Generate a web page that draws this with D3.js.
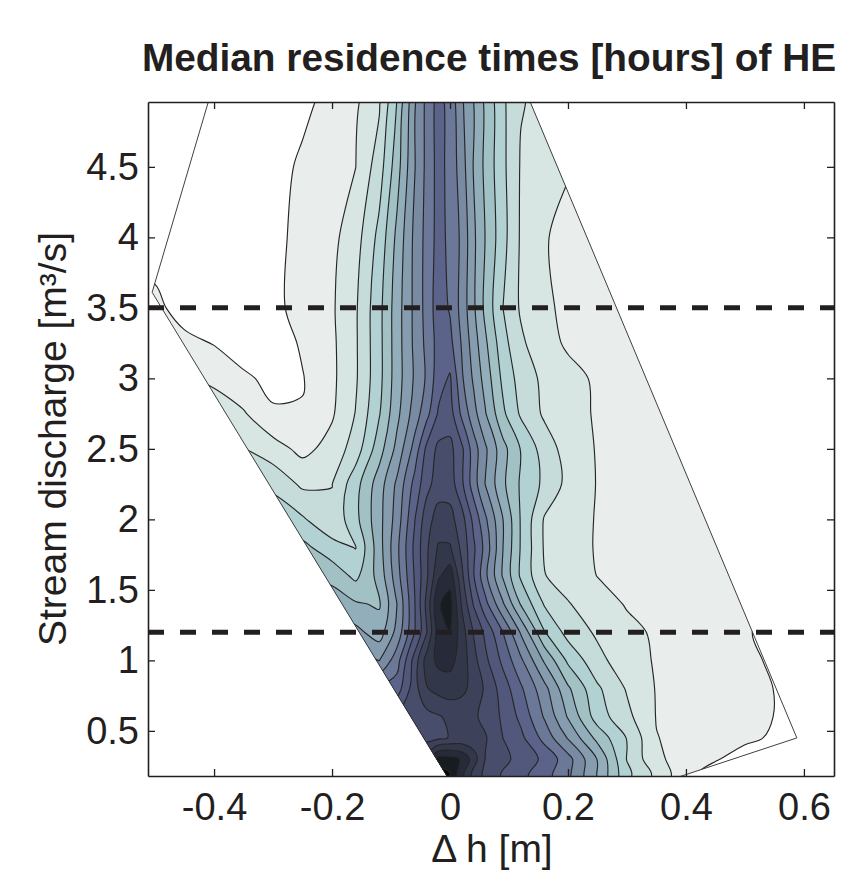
<!DOCTYPE html>
<html><head><meta charset="utf-8">
<script src="https://cdn.jsdelivr.net/npm/d3@7"></script>
<style>
body{margin:0;background:#fff;}
text{font-family:"Liberation Sans",Arial,Helvetica,sans-serif;}
</style></head><body>
<svg id="chart" width="846" height="882"></svg>
<script>
// ---------- data ----------
const xTicks = [-0.4, -0.2, 0, 0.2, 0.4, 0.6];
const xTickLabels = ["-0.4", "-0.2", "0", "0.2", "0.4", "0.6"];
const yTicks = [0.5, 1, 1.5, 2, 2.5, 3, 3.5, 4, 4.5];
const yTickLabels = ["0.5", "1", "1.5", "2", "2.5", "3", "3.5", "4", "4.5"];
const dischargeMarks = [3.5, 1.2];

// grid node positions (Δh [m], discharge [m³/s])
const gridX = [-0.55,-0.5,-0.45,-0.4,-0.35,-0.3,-0.25,-0.2,-0.16,-0.12,-0.09,-0.06,-0.04,-0.02,0,0.02,0.04,0.06,0.09,0.12,0.16,0.2,0.25,0.3,0.35,0.4,0.45,0.5,0.55,0.6,0.65,0.7];
const gridY = [0.1,0.2,0.3,0.45,0.6,0.8,1.0,1.2,1.4,1.6,1.8,2.0,2.25,2.5,2.75,3.0,3.25,3.5,4.0,4.5,5.0];

// median residence time level (rows follow gridY, columns follow gridX)
const medianTime = [
[15.5,15.5,15.5,15.5,15.5,15.5,15.5,15.5,15.5,15.5,15.5,15.7,16.8,17.3,16.7,15.2,13.5,12.6,11.8,11.2,10.3,9.1,6.8,4.1,2.6,1.2,0.6,0.5,0.5,0.5,0.5,0.5],
[15.5,15.5,15.5,15.5,15.5,15.5,15.5,15.5,15.5,15.5,15.5,15.8,16.9,17.6,17.03,15.3,13.7,12.73,11.9,11.31,10.42,9.24,6.95,4.25,2.74,1.27,0.6,0.5,0.5,0.5,0.5,0.5],
[14.5,14.4,14.3,14.2,14.1,14.05,14.05,14.05,14.05,14.05,14.05,14.05,14.6,16.35,16.4,15.9,14.5,12.95,12.28,11.64,10.78,9.38,6.95,3.95,2.19,1.57,1.08,0.6,0.5,0.5,0.5,0.5],
[13.05,12.9,12.8,12.75,12.7,12.65,12.6,12.6,12.55,12.55,12.5,12.5,12.55,12.81,13.05,13.26,13.33,13.09,11.99,11.26,9.66,7.92,5.68,3.95,2.03,1.73,1.46,1.19,0.88,0.55,0.5,0.5],
[12.8,12.7,12.6,12.55,12.5,12.45,12.4,12.4,12.35,12.3,12.3,12.35,12.64,12.9,13.2,13.45,13.16,12.73,11.82,10.75,8.9,6.91,4.5,3.27,1.96,1.8,1.64,1.42,0.98,0.6,0.5,0.5],
[11.05,10.9,10.8,10.7,10.6,10.5,10.4,10.35,10.3,10.25,10.49,12.58,13.93,14.34,14.52,14.22,13.72,12.83,11.53,10.17,8.33,6.17,4.17,2.9,1.94,1.76,1.59,1.42,0.98,0.6,0.5,0.5],
[9.5,9.3,9.1,8.9,8.8,8.7,8.6,8.5,8.4,7.98,9.56,12.43,14.4,15.27,15.31,14.58,13.34,12.24,10.74,9.2,6.86,4.8,3.3,2.42,1.91,1.72,1.53,1.3,0.8,0.5,0.5,0.5],
[8.3,8.1,7.9,7.7,7.6,7.5,7.45,7.4,7.3,6.5,8.32,10.95,12.88,15.5,16.05,14.46,12.94,11.76,9.99,7.89,5.06,3.63,2.84,2.23,1.88,1.69,1.45,1.1,0.7,0.5,0.5,0.5],
[7.6,7.4,7.2,7.05,6.9,6.8,6.7,6.65,6.12,5.88,7.99,10.93,13.23,15.9,16.4,13.87,11.91,10.32,8.11,5.92,3.91,3.07,2.39,1.93,1.74,1.58,1.5,1.3,0.95,0.6,0.5,0.5],
[6.8,6.6,6.4,6.3,6.2,6.1,6.05,5.64,4.74,6.36,8.56,11.09,12.77,14.8,15.6,13.24,11.07,9.23,6.86,4.84,3.04,2.54,1.98,1.8,1.62,1.56,1.5,1.5,1.5,1.5,1.5,1.5],
[6.05,5.8,5.6,5.5,5.4,5.35,5.3,4.39,3.96,6.58,8.74,11.23,12.8,14.11,14.1,12.74,11.18,9.66,6.99,4.92,2.9,2.38,1.93,1.78,1.62,1.56,1.5,1.5,1.5,1.5,1.5,1.5],
[5.2,5.02,4.9,4.8,4.75,4.7,4.13,3.19,4.71,6.65,8.43,10.94,12.55,13.44,13.35,12.4,10.73,9.18,6.99,4.92,2.91,2.4,1.94,1.78,1.62,1.56,1.5,1.5,1.5,1.5,1.5,1.5],
[4.6,4.4,4.2,4.1,4.02,3.74,2.81,2.98,4.62,6.52,8.19,10.33,11.64,12.49,12.53,11.2,9.49,7.96,6.19,4.87,3.78,2.71,1.95,1.78,1.62,1.56,1.5,1.5,1.5,1.5,1.5,1.5],
[3.8,3.6,3.4,3.2,3.05,2.42,1.72,2.36,3.47,5.56,7.29,9.37,11.2,12.24,12.29,11.2,9.49,8.16,6.33,4.95,3.53,2.57,1.93,1.78,1.62,1.56,1.5,1.5,1.5,1.5,1.5,1.5],
[3.2,3.02,2.85,2.7,2.1,1.15,1.05,1.88,3.04,4.92,6.72,8.46,9.64,11.1,11.44,9.78,8.38,7.07,5.19,3.85,2.84,2.31,1.91,1.74,1.59,1.5,1.45,1.45,1.45,1.45,1.45,1.45],
[2.6,2.4,2.1,1.73,1.23,0.65,0.95,1.79,2.87,4.69,6.53,8.13,9.12,10.55,11.13,9.15,7.84,6.58,4.74,3.58,2.76,2.26,1.88,1.69,1.54,1.45,1.4,1.4,1.4,1.4,1.4,1.4],
[2.05,1.6,1.3,0.95,0.3,0.45,1.13,1.81,2.87,4.69,6.53,8.22,9.24,10.38,10.29,8.9,7.49,6.18,4.35,3.19,2.3,1.88,1.75,1.6,1.52,1.45,1.4,1.4,1.4,1.4,1.4,1.4],
[1.6,1.3,0.5,0.35,0.35,0.76,1.34,1.87,2.87,4.69,6.53,8.24,9.34,10.52,9.9,8.65,7.18,5.73,3.99,2.87,2.12,1.85,1.7,1.58,1.5,1.43,1.4,1.4,1.4,1.4,1.4,1.4],
[0.4,0.4,0.4,0.4,0.4,0.75,1.27,1.75,2.57,4.29,6.24,8.24,9.31,10.36,9.77,8.78,7.2,5.96,4.33,2.88,2.05,1.8,1.7,1.58,1.5,1.43,1.4,1.4,1.4,1.4,1.4,1.4],
[0.4,0.4,0.4,0.4,0.4,0.64,1.16,1.63,1.99,3.52,5.56,7.94,9.24,10.36,9.7,8.47,6.94,5.76,4.22,2.92,2.3,2.05,1.8,1.6,1.5,1.43,1.4,1.4,1.4,1.4,1.4,1.4],
[0.4,0.4,0.4,0.4,0.4,0.4,0.74,1.27,1.79,2.79,4.98,7.8,9.24,10.36,9.63,8.15,6.94,5.76,4.16,3.07,2.76,2.56,2.4,2.35,2.3,2.3,2.3,2.3,2.3,2.3,2.3,2.3]
];

// outline of the simulated domain
const domainX = [-0.407, -0.505, -0.001, 0.371, 0.588, 0.132];
const domainY = [5.0, 3.61, 0.15, 0.15, 0.45, 5.0];

const levels = d3.range(1, 18);
const levelColors = ["#ffffff","#e9eeec","#d7e6e3","#c5dcda","#b2d1d2","#a2c1c5","#93aebb","#869caf","#798aa3","#6c7898","#5b638a","#51587b","#474d6b","#3d425a","#33374a","#272a39","#161c20","#040505"];

// ---------- drawing ----------
const svg = d3.select("#chart");
const ink = "#231f20";
const x = d3.scaleLinear().domain([-0.512, 0.651]).range([148, 834]);
const y = d3.scaleLinear().domain([0.18, 4.96]).range([776, 102]);
const colScale = d3.scaleLinear().domain(d3.range(gridX.length)).range(gridX);
const rowScale = d3.scaleLinear().domain(d3.range(gridY.length)).range(gridY);

const defs = svg.append("defs");
defs.append("clipPath").attr("id", "plotClip").append("rect")
  .attr("x", x.range()[0]).attr("y", y.range()[1])
  .attr("width", x.range()[1] - x.range()[0]).attr("height", y.range()[0] - y.range()[1]);
const domainD = d3.line()(domainX.map((v, i) => [x(v), y(domainY[i])])) + "Z";
defs.append("clipPath").attr("id", "domainClip").append("path").attr("d", domainD);

const n = gridX.length, m = gridY.length;
const values = medianTime.flat();
const contours = d3.contours().size([n, m]).thresholds(levels)(values);

// grid index space -> pixel space (node i sits at index coordinate i + 0.5)
const toPx = p => [x(colScale(p[0] - 0.5)), y(rowScale(p[1] - 0.5))];
const smoothRing = d3.line().curve(d3.curveCatmullRomClosed.alpha(0.5));
function contourPath(geom) {
  let d = "";
  geom.coordinates.forEach(poly => poly.forEach(ring => {
    const pts = ring.slice(0, ring.length - 1).map(toPx);
    if (pts.length > 2) d += smoothRing(pts);
  }));
  return d;
}

const plotG = svg.append("g").attr("clip-path", "url(#plotClip)");
const domG = plotG.append("g").attr("clip-path", "url(#domainClip)");
domG.append("path").attr("d", domainD).attr("fill", levelColors[0]);
domG.selectAll("path.band").data(contours).join("path")
  .attr("class", "band")
  .attr("d", contourPath)
  .attr("fill", d => levelColors[d.value])
  .attr("stroke", "#262626")
  .attr("stroke-width", 1.15)
  .attr("stroke-linejoin", "round");

plotG.append("path").attr("d", domainD).attr("fill", "none")
  .attr("stroke", "#2a2a2a").attr("stroke-width", 0.9);

// dashed discharge marks
svg.selectAll("line.mark").data(dischargeMarks).join("line")
  .attr("class", "mark")
  .attr("x1", x.range()[0]).attr("x2", x.range()[1])
  .attr("y1", d => y(d)).attr("y2", d => y(d))
  .attr("stroke", ink).attr("stroke-width", 5).attr("stroke-dasharray", "16 16");

// axes
function styleAxis(g) {
  g.attr("color", ink).attr("font-family", null).attr("font-size", null);
  g.select(".domain").attr("stroke-width", 1.6);
  g.selectAll(".tick line").attr("stroke-width", 1.3);
  g.selectAll(".tick text").attr("font-size", 38).attr("fill", ink);
}
svg.append("g").attr("transform", `translate(0,${y.range()[0]})`)
  .call(d3.axisBottom(x).tickValues(xTicks).tickFormat((d, i) => xTickLabels[i]).tickSize(-7).tickSizeOuter(0).tickPadding(17))
  .call(styleAxis);
svg.append("g").attr("transform", `translate(0,${y.range()[1]})`)
  .call(d3.axisTop(x).tickValues(xTicks).tickFormat("").tickSize(-7).tickSizeOuter(0))
  .call(styleAxis);
svg.append("g").attr("transform", `translate(${x.range()[0]},0)`)
  .call(d3.axisLeft(y).tickValues(yTicks).tickFormat((d, i) => yTickLabels[i]).tickSize(-7).tickSizeOuter(0).tickPadding(9))
  .call(styleAxis);
svg.append("g").attr("transform", `translate(${x.range()[1]},0)`)
  .call(d3.axisRight(y).tickValues(yTicks).tickFormat("").tickSize(-7).tickSizeOuter(0))
  .call(styleAxis);

// titles
svg.append("text").attr("x", 489).attr("y", 71).attr("text-anchor", "middle")
  .attr("font-size", 38.8).attr("font-weight", "bold").attr("fill", ink)
  .text("Median residence times [hours] of HE");
svg.append("text").attr("x", 492).attr("y", 862).attr("text-anchor", "middle")
  .attr("font-size", 39).attr("fill", ink).text("Δ h [m]");
svg.append("text").attr("transform", "translate(66,439) rotate(-90)").attr("text-anchor", "middle")
  .attr("font-size", 39).attr("fill", ink).text("Stream discharge [m³/s]");
</script>
</body></html>
